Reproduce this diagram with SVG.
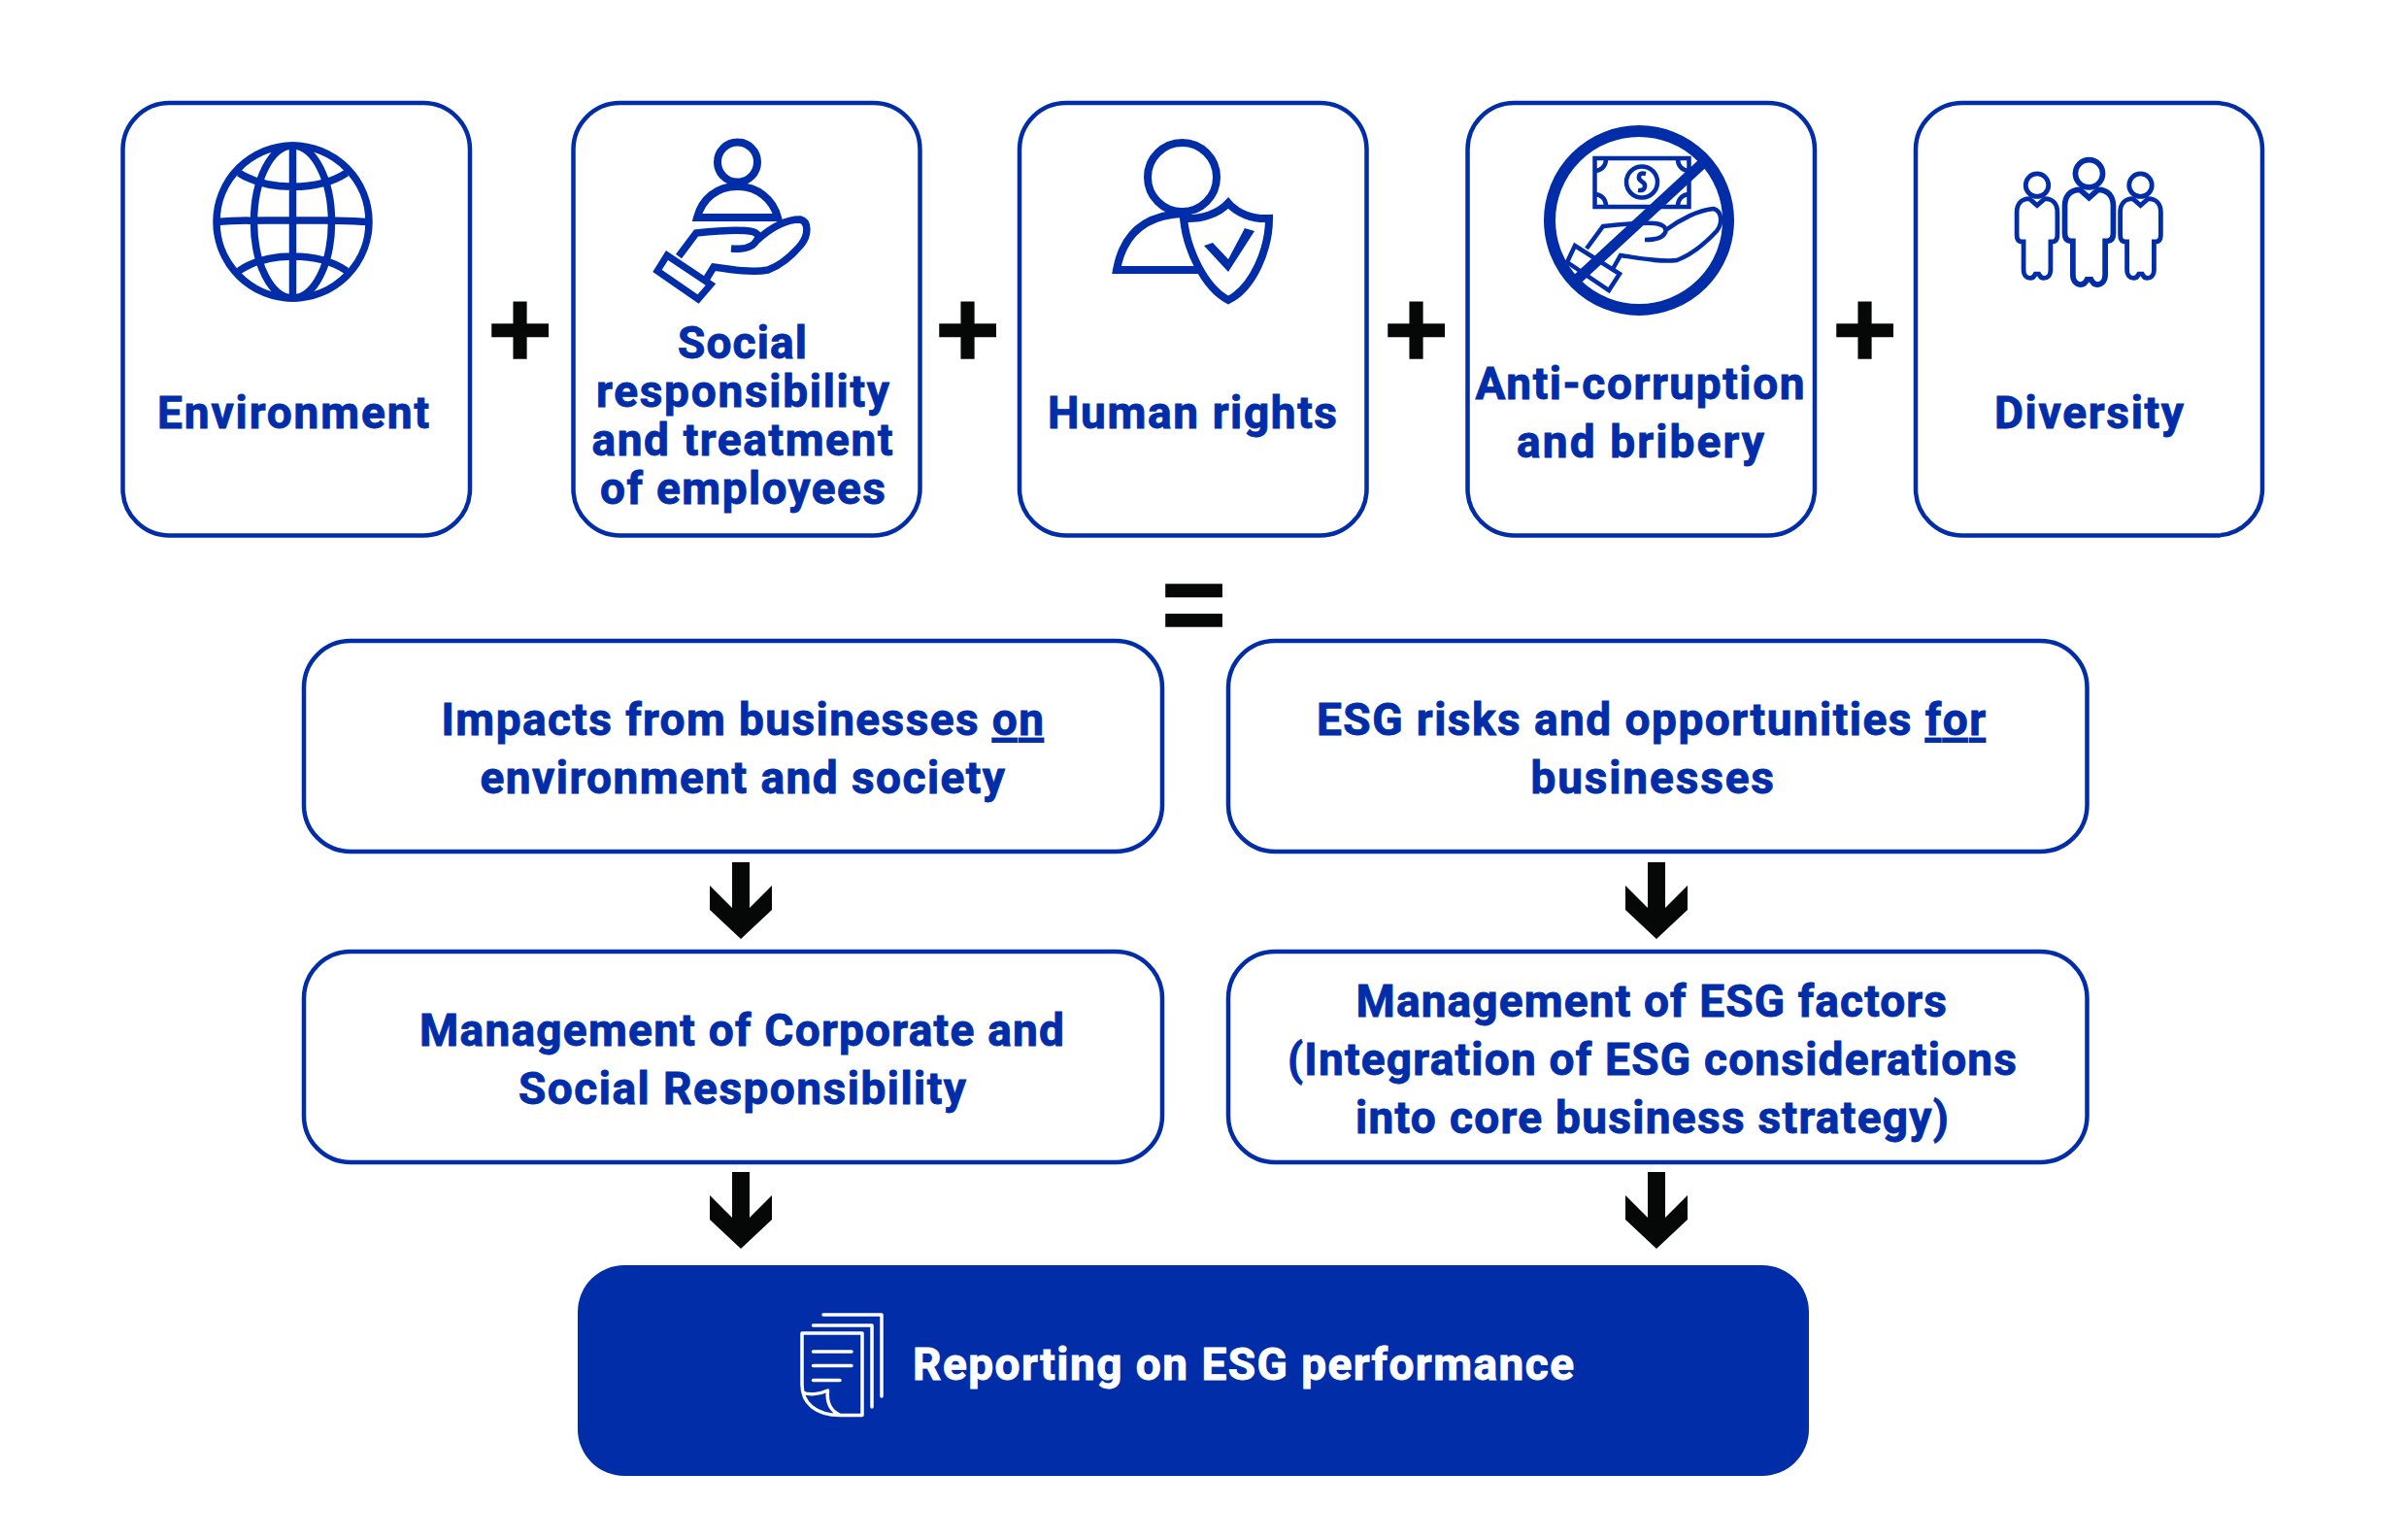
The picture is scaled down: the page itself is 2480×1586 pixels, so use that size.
<svg xmlns="http://www.w3.org/2000/svg" width="2480" height="1586" viewBox="0 0 2480 1586">
<style>
.box{fill:#fff;stroke:#022DA9;stroke-width:4.5}
.t{font-family:"Roboto","Liberation Sans",sans-serif;font-weight:700;font-size:46px;fill:#022DA9;stroke:#022DA9;stroke-width:.9}
.w{fill:#fff;stroke:#fff}
.op{font-family:"Liberation Sans",Arial,sans-serif;font-weight:700;font-size:114px;fill:#060807;stroke:#060807;stroke-width:1.6;text-anchor:middle}
.i{fill:none;stroke:#022DA9;stroke-linejoin:miter}
.iw{fill:none;stroke:#fff;stroke-width:3.5;stroke-linecap:round;stroke-linejoin:round}
.u{text-decoration:underline}
.arrow{fill:#060807}
</style>
<defs>
<path id="ah" d="M-9,0H9V47L32,24V49L0,79L-32,49V24L-9,47Z"/>
<g id="person" class="i" stroke-width="5.500">
<circle cx="0" cy="-44" r="13.500"/>
<path d="M-9,-28C-19,-28 -24,-21 -24,-12V15C-24,20 -22,23 -18,23H-16V56C-16,63 -12,66 -8,66C-4,66 -3,63 -2,61H2C3,63 4,66 8,66C12,66 16,63 16,56V23H18C22,23 24,20 24,15V-12C24,-21 19,-28 9,-28L0,-20Z"/>
</g>
</defs>

<rect width="2480" height="1586" fill="#fff"/>

<g id="node-environment">
<rect class="box" x="126.500" y="106" width="357.500" height="445.500" rx="48"/>
<g class="i" stroke-width="7.500">
<circle cx="301.500" cy="228.500" r="78.500"/>
<ellipse cx="301.500" cy="228.500" rx="40" ry="78.500"/>
<path d="M301.500,150V307M223,228.500C260,226 343,226 380,228.500M246,178C275,197 328,197 357,178M246,279C275,259 328,259 357,279"/>
</g>
<text class="t" x="162" y="441" textLength="280">Environment</text>
</g>

<g id="node-social">
<rect class="box" x="590.500" y="106" width="357" height="445.500" rx="48"/>
<g class="i" stroke-width="8">
<circle cx="759.500" cy="167" r="20.500"/>
<path d="M718,224C723,205 738,192 759,192C780,192 796,205 801,224Z"/>
<path d="M687,263L732,293L719,308L677,279Z" stroke-width="7"/>
<path d="M699,264L717,240C736,238 755,236 772,238C780,239 783,243 779,248C775,255 765,257 753,256M779,248C792,236 808,226 824,226C833,228 833,242 825,252C815,264 802,274 791,278C775,281 755,278 735,275L727,288" stroke-width="7.500"/>
</g>
<text class="t" x="698" y="369" textLength="133">Social</text>
<text class="t" x="614" y="419" textLength="302">responsibility</text>
<text class="t" x="609.500" y="469" textLength="310">and treatment</text>
<text class="t" x="618" y="519" textLength="294">of employees</text>
</g>

<g id="node-human-rights">
<rect class="box" x="1050" y="106" width="357.500" height="445.500" rx="48"/>
<g class="i" stroke-width="8">
<circle cx="1217.500" cy="182.500" r="35.500"/>
<path d="M1236,278H1150C1156,245 1175,222 1217,220"/>
<path d="M1265,209C1274,220 1290,226 1307,225C1307,256 1291,296 1265,309C1240,296 1222,256 1219,225C1238,226 1255,220 1265,209Z"/>
</g>
<path d="M1240,253L1249,250L1265,267L1282,235L1292,238L1265,280Z" fill="#022DA9"/>
<text class="t" x="1079" y="441" textLength="298">Human rights</text>
</g>

<g id="node-anti-corruption">
<rect class="box" x="1511.500" y="106" width="357.500" height="445.500" rx="48"/>
<g class="i" stroke-width="4.500">
<circle cx="1688" cy="227" r="92" stroke-width="12"/>
<rect x="1642.500" y="163" width="97" height="50"/>
<circle cx="1691" cy="187.500" r="16"/>
<path d="M1642,176C1649,176 1654,171 1654,164M1740,176C1733,176 1728,171 1728,164M1642,200C1649,200 1654,205 1654,212M1740,200C1733,200 1728,205 1728,212M1695,179C1687,177 1686,184 1691,187C1696,190 1695,197 1687,196"/>
<path d="M1622,253L1668,282L1657,299L1614,270Z"/>
<path d="M1634,256L1651,233C1670,231 1690,229 1704,230C1714,231 1718,236 1714,241C1711,246 1703,247 1694,247M1714,238C1730,226 1750,216 1765,215C1774,218 1774,230 1768,238C1755,252 1740,263 1727,268C1710,270 1690,266 1669,263L1661,277"/>
<path d="M1757,165L1625,287" stroke-width="11"/>
</g>
<text class="t" x="1519.500" y="411" textLength="339">Anti-corruption</text>
<text class="t" x="1562" y="471" textLength="255">and bribery</text>
</g>

<g id="node-diversity">
<rect class="box" x="1973" y="106" width="357" height="445.500" rx="48"/>
<use href="#person" transform="translate(2098 229) scale(.87)"/>
<use href="#person" transform="translate(2151.500 224.500) scale(1.04)"/>
<use href="#person" transform="translate(2204.500 229) scale(.87)"/>
<text class="t" x="2054" y="441" textLength="195">Diversity</text>
</g>

<g id="operators">
<text class="op" x="535.500" y="378">+</text>
<text class="op" x="996.500" y="378">+</text>
<text class="op" x="1458.500" y="378">+</text>
<text class="op" x="1920.500" y="378">+</text>
<text class="op" x="1229.500" y="661">=</text>
</g>

<g id="node-impacts">
<rect class="box" x="313" y="660" width="884" height="217" rx="48"/>
<text class="t" x="454.500" y="757" textLength="620.500">Impacts from businesses <tspan class="u">on</tspan></text>
<text class="t" x="494.500" y="817" textLength="540.500">environment and society</text>
</g>
<g id="node-risks">
<rect class="box" x="1265" y="660" width="884.500" height="217" rx="48"/>
<text class="t" x="1356" y="757" textLength="689">ESG risks and opportunities <tspan class="u">for</tspan></text>
<text class="t" x="1576.500" y="817" textLength="250.500">businesses</text>
</g>
<g id="node-csr">
<rect class="box" x="313" y="980" width="884" height="217" rx="48"/>
<text class="t" x="432" y="1077" textLength="664">Management of Corporate and</text>
<text class="t" x="534" y="1137" textLength="461">Social Responsibility</text>
</g>
<g id="node-esg">
<rect class="box" x="1265" y="980" width="884.500" height="217" rx="48"/>
<text class="t" x="1396.500" y="1047" textLength="608.500">Management of ESG factors</text>
<text class="t" x="1326" y="1107" textLength="751">(Integration of ESG considerations</text>
<text class="t" x="1396" y="1167" textLength="611">into core business strategy)</text>
</g>

<g id="node-reporting">
<rect x="595" y="1303" width="1268" height="217" rx="48" fill="#022DA9"/>
<g class="iw">
<path d="M848,1354H908V1438M837.500,1365H898V1449"/>
<path d="M865.500,1457.500H888V1373H826V1426C826,1445 840,1457.500 865.500,1457.500C855,1453 851,1445 852.500,1432C844,1436 833,1437 827,1434"/>
<path d="M837.500,1392H877M837.500,1406.500H877M837.500,1421.500H865"/>
</g>
<text class="t w" x="940" y="1421" textLength="681">Reporting on ESG performance</text>
</g>

<g id="connectors" class="arrow">
<use href="#ah" transform="translate(763 888)"/>
<use href="#ah" transform="translate(1706 888)"/>
<use href="#ah" transform="translate(763 1207)"/>
<use href="#ah" transform="translate(1706 1207)"/>
</g>
</svg>
